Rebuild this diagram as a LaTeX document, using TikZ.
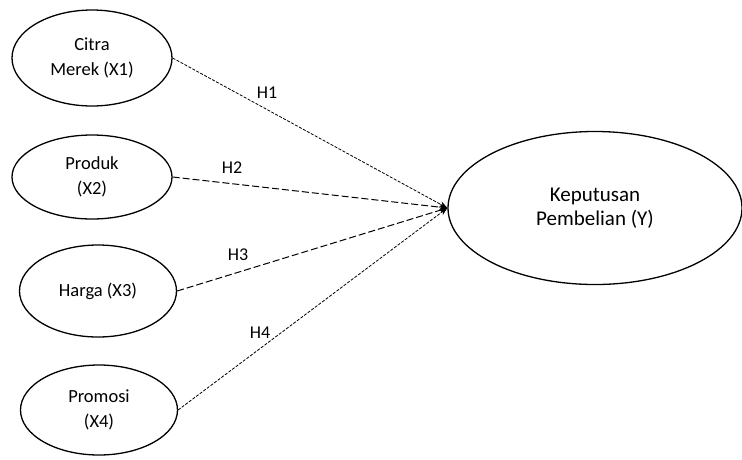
\documentclass[tikz,border=0pt]{standalone}
\usepackage{fontspec}
\setmainfont{Carlito}
\usetikzlibrary{arrows.meta,shapes.geometric}
\begin{document}
\begin{tikzpicture}[x=1pt,y=-1pt,
  var/.style={draw,line width=1.3pt,ellipse,inner sep=0pt,align=center,font=\fontsize{18.5}{25}\selectfont},
  link/.style={dash pattern=on 3pt off 1.5pt,line width=0.8pt,-{Stealth[length=8pt,width=6pt]}},
  longlink/.style={link,dash pattern=on 7pt off 3pt,line width=1pt},
  hyp/.style={font=\fontsize{18}{20}\selectfont}]
\useasboundingbox (0,0) rectangle (742,459);
\node[var,minimum width=160,minimum height=96] (x1) at (92,58) {Citra\\Merek (X1)};
\node[var,minimum width=160,minimum height=84] (x2) at (92,177) {Produk\\(X2)};
\node[var,minimum width=157,minimum height=92] (x3) at (98,291) {Harga (X3)};
\node[var,minimum width=157,minimum height=90] (x4) at (99,410) {Promosi\\(X4)};
\node[var,minimum width=294,minimum height=153,font=\fontsize{21}{24}\selectfont] (y) at (595,208) {Keputusan\\Pembelian (Y)};
\draw[link] (x1.east) -- (y.west);
\draw[longlink] (x2.east) -- (y.west);
\draw[longlink] (x3.east) -- (y.west);
\draw[link] (x4.east) -- (y.west);
\node[hyp] (h1) at (267,93) {H1};
\node[hyp] (h2) at (232,168) {H2};
\node[hyp] (h3) at (238,255) {H3};
\node[hyp] (h4) at (260,333) {H4};
\end{tikzpicture}
\end{document}
